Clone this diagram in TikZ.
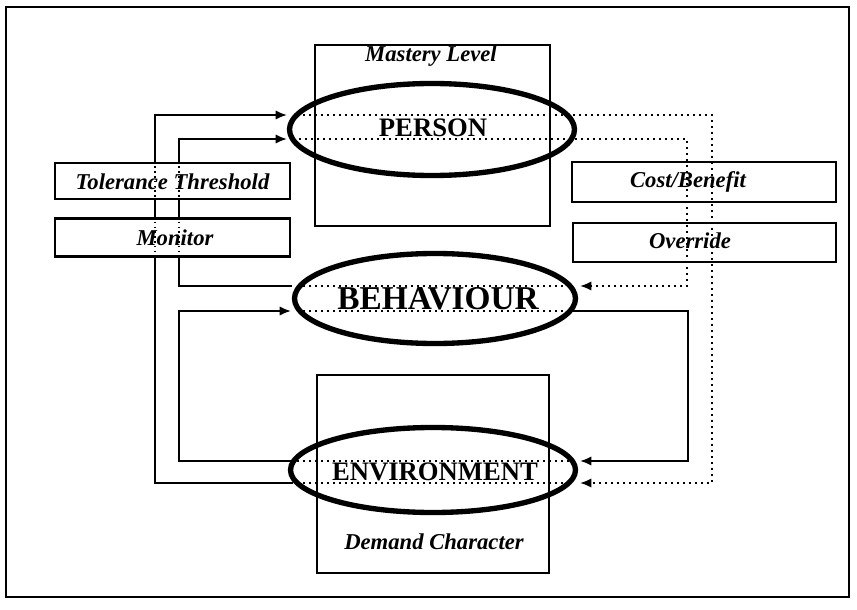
\documentclass[tikz,border=0pt]{standalone}
\usepackage{fontspec}
\setmainfont{Liberation Serif}
\usetikzlibrary{shapes.geometric,arrows.meta,calc}
\begin{document}
\begin{tikzpicture}[x=0.75pt,y=-0.75pt,
  lab/.style={font=\fontsize{17}{20}\selectfont\bfseries\itshape, inner sep=0pt},
  bigell/.style={draw, ellipse, line width=4pt, inner sep=0pt, font=\fontsize{20}{24}\selectfont\bfseries},
  bigbox/.style={draw, line width=1.3pt, inner sep=0pt},
  tbox/.style={draw, line width=2.2pt, inner sep=0pt},
  conn/.style={line width=1.5pt},
  dots/.style={line width=1.5pt, dash pattern=on 1.5pt off 3pt},
  thindots/.style={line width=1pt, dash pattern=on 1.2pt off 2.4pt},
  arr/.style={-{Latex[length=8.5pt,width=7pt]}}
]
\useasboundingbox (0,0) rectangle (857,610);
% outer frame
\draw[line width=1.5pt] (6,7) rectangle (849,597);

% big boxes
\node[bigbox, minimum width=176.25pt, minimum height=135.75pt] (topbox) at (432.5,135.5) {};
\node[bigbox, minimum width=174pt, minimum height=148.5pt] (botbox) at (433,474) {};
\node[lab] (mastery) at (431,56) {Mastery Level};
\node[lab] (demand) at (434,542) {Demand Character};

% ellipses
\node[bigell, minimum width=213.75pt, minimum height=69pt] (person) at (432,129.5) {};
\node[font=\fontsize{20}{24}\selectfont\bfseries, inner sep=0pt] (persontxt) at (433,128) {PERSON};
\node[bigell, minimum width=210.75pt, minimum height=67.5pt] (behav) at (435,298.5) {};
\node[font=\fontsize{25}{30}\selectfont\bfseries, inner sep=0pt] (behavtxt) at (438,299) {BEHAVIOUR};
\node[bigell, minimum width=213.75pt, minimum height=63.75pt] (env) at (433,470) {};
\node[font=\fontsize{20}{24}\selectfont\bfseries, inner sep=0pt] (envtxt) at (435,472) {ENVIRONMENT};

% x positions of the vertical runs
\coordinate (xa) at (155,0);
\coordinate (xb) at (179,0);
\coordinate (xc) at (687,0);
\coordinate (xd) at (712,0);
\coordinate (xe) at (688,0);

% ports on ellipses
\coordinate (pL1) at ($(person.center)+(-145,-14.5)$);
\coordinate (pL2) at ($(person.center)+(-145,9.5)$);
\coordinate (pI1) at ($(person.center)+(-135,-14.5)$);
\coordinate (pI2) at ($(person.center)+(-139,9.5)$);
\coordinate (bL1) at ($(behav.center)+(-143,-12.5)$);
\coordinate (bL2) at ($(behav.center)+(-144,12.5)$);
\coordinate (bI1) at ($(behav.center)+(-138,-12.5)$);
\coordinate (bI2) at ($(behav.center)+(-138,12.5)$);
\coordinate (bR1) at ($(behav.center)+(145,-12.5)$);
\coordinate (bR2) at ($(behav.center)+(140,12.5)$);
\coordinate (bJ1) at ($(behav.center)+(138,-12.5)$);
\coordinate (eL1) at ($(env.center)+(-140,-9)$);
\coordinate (eL2) at ($(env.center)+(-140,13)$);
\coordinate (eI1) at ($(env.center)+(-136,-9)$);
\coordinate (eI2) at ($(env.center)+(-136,13)$);
\coordinate (eR1) at ($(env.center)+(147,-9)$);
\coordinate (eR2) at ($(env.center)+(147,13)$);
\coordinate (eJ1) at ($(env.center)+(138,-9)$);
\coordinate (eJ2) at ($(env.center)+(138,13)$);

% left solid connectors
\draw[conn,arr] (eL2) -- (eL2 -| xa) -- (xa |- pL1) -- (pL1);
\draw[conn,arr] (bL1) -- (bL1 -| xb) -- (xb |- pL2) -- (pL2);
\draw[conn,arr] (eL1) -- (eL1 -| xb) -- (xb |- bL2) -- (bL2);

% right connectors
\draw[dots,arr] (pI2) -- (pI2 -| xc) -- (xc |- bR1) -- (bR1);
\draw[dots,arr] (pI1) -- (pI1 -| xd) -- (xd |- eR2) -- (eR2);
\draw[conn,arr] (bR2) -- (bR2 -| xe) -- (xe |- eR1) -- (eR1);

% dotted pass-throughs inside the ellipses
\draw[dots] (bI1) -- (bJ1);
\draw[dots] (bI2) -- (bR2);
\draw[dots] (eI1) -- (eJ1);
\draw[dots] (eI2) -- (eJ2);

% left boxes
\node[tbox, fill=white, minimum width=176.25pt, minimum height=27pt] (tol) at (172.5,181) {};
\node[tbox, fill=white, minimum width=176.25pt, minimum height=28.5pt] (mon) at (172.5,237.5) {};
\draw[thindots] (xa |- tol.north) -- (xa |- tol.south);
\draw[thindots] (xb |- tol.north) -- (xb |- tol.south);
\draw[thindots] (xa |- mon.north) -- (xa |- mon.south);
\draw[thindots] (xb |- mon.north) -- (xb |- mon.south);
\node[lab] (toltxt) at (172.5,182) {Tolerance Threshold};
\node[lab] (montxt) at (175,238) {Monitor};

% right boxes
\node[tbox, minimum width=198pt, minimum height=30pt] (cost) at (704,182) {};
\node[tbox, minimum width=197.25pt, minimum height=29.25pt] (over) at (704.5,242.5) {};
\node[lab] (costtxt) at (688,182) {Cost/Benefit};
\node[lab] (overtxt) at (690,241) {Override};
\end{tikzpicture}
\end{document}
